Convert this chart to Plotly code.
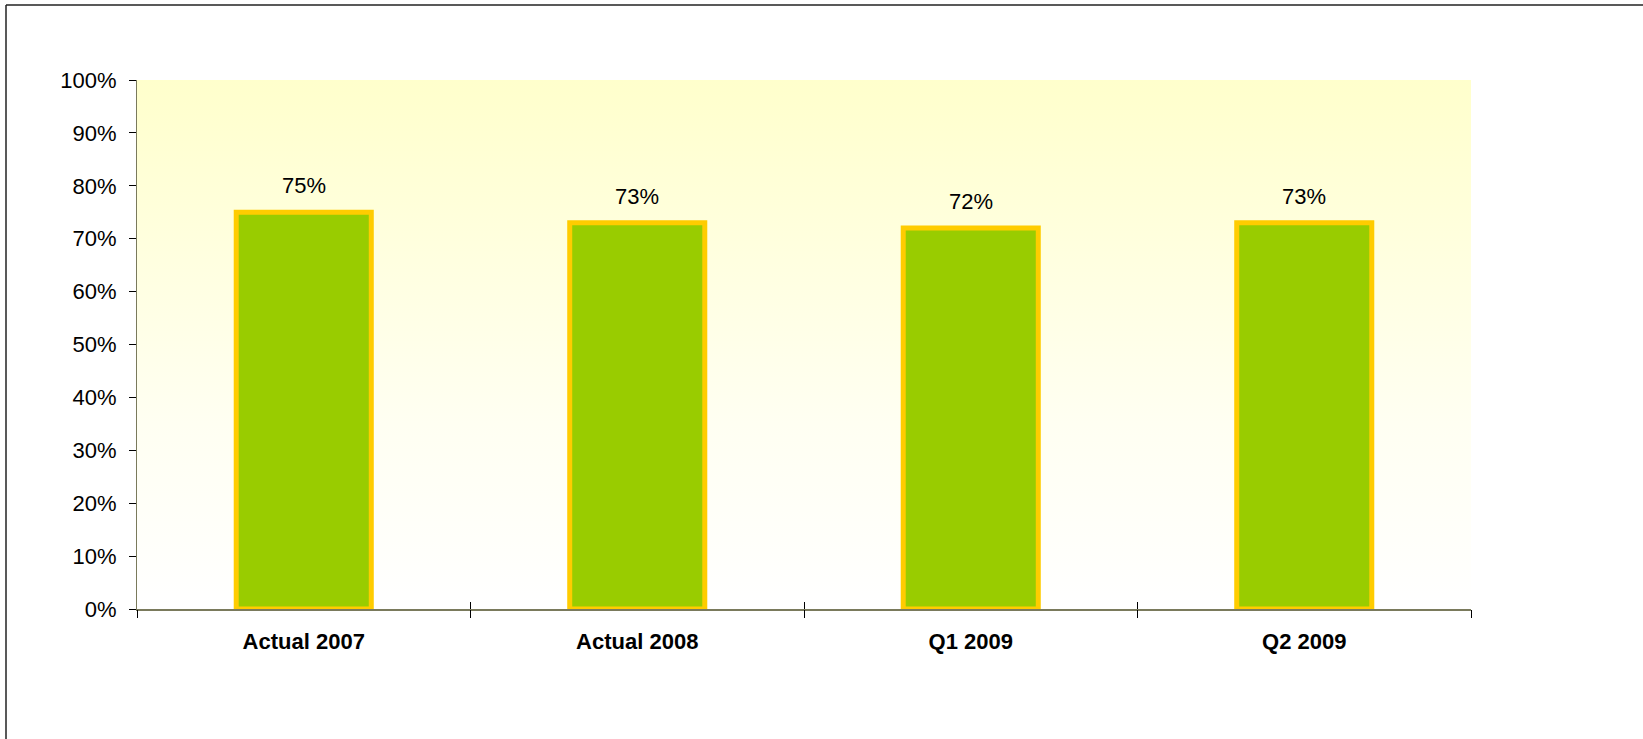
import plotly.graph_objects as go

# Chart data
categories = ["Actual 2007", "Actual 2008", "Q1 2009", "Q2 2009"]
values = [75, 73, 72, 73]
y_tick_values = [0, 10, 20, 30, 40, 50, 60, 70, 80, 90, 100]
y_tick_labels = [f"{v}%" for v in y_tick_values]

W, H = 1643, 739
L, R, T, B = 137, 172, 80, 130
plot_w = W - L - R
plot_h = H - T - B

x_pos = list(range(len(categories)))
x_lo, x_hi = -0.5, len(categories) - 0.5
y_lo, y_hi = 0, 100
boundaries = [x_lo + i for i in range(len(categories) + 1)]

font_family = "Liberation Sans, Arial, sans-serif"

fig = go.Figure()

# Background: soft yellow fading to white towards the baseline (main subplot, drawn first)
fig.add_trace(go.Scatter(
    x=[x_lo, x_hi, x_hi, x_lo, x_lo],
    y=[y_lo, y_lo, y_hi, y_hi, y_lo],
    mode="none",
    fill="toself",
    fillgradient=dict(type="vertical",
                      colorscale=[[0, "#FFFFFF"], [0.35, "#FFFFF2"], [1, "#FFFFCC"]]),
    hoverinfo="skip",
    showlegend=False,
))

# Bars live on an overlaying x axis so they sit above the background fill
fig.add_trace(go.Bar(
    x=x_pos,
    y=values,
    xaxis="x2",
    width=0.405,
    marker=dict(color="#99CC00", line=dict(color="#FFCC00", width=5)),
    showlegend=False,
    hoverinfo="skip",
))

# Value labels above bars
for xi, v in zip(x_pos, values):
    fig.add_annotation(
        x=xi, y=v, xref="x2", yref="y", text=f"{v}%", showarrow=False,
        yanchor="bottom", yshift=12,
        font=dict(family=font_family, size=22, color="#000000"),
    )

# Outer frame (left and top edges)
fx = (6 - L) / plot_w
fy = 1 + (T - 5) / plot_h
fig.add_shape(type="line", xref="paper", yref="paper",
              x0=fx, x1=fx, y0=fy, y1=-B / plot_h - 0.01,
              line=dict(color="#222222", width=1.5))
fig.add_shape(type="line", xref="paper", yref="paper",
              x0=fx, x1=(W - L) / plot_w + 0.01, y0=fy, y1=fy,
              line=dict(color="#222222", width=1.5))

tick_axis = dict(
    overlaying="x", anchor="y", side="bottom",
    range=[x_lo, x_hi],
    showticklabels=False, showgrid=False, zeroline=False, showline=False,
)

fig.update_layout(
    width=W, height=H,
    margin=dict(l=L, r=R, t=T, b=B, pad=0),
    paper_bgcolor="#FFFFFF",
    plot_bgcolor="rgba(0,0,0,0)",
    font=dict(family=font_family, size=22, color="#000000"),
    xaxis=dict(
        range=[x_lo, x_hi],
        tickvals=x_pos,
        ticktext=[f"<b>{c}</b>" for c in categories],
        ticks="",
        showline=False,
        showgrid=False, zeroline=False,
        tickfont=dict(family=font_family, size=22, color="#000000"),
        ticklabelstandoff=17,
    ),
    xaxis2=dict(
        overlaying="x", anchor="y", side="bottom",
        range=[x_lo, x_hi], tickvals=[],
        showticklabels=False, showgrid=False, zeroline=False,
        showline=True, linecolor="#7A7A5C", linewidth=2,
    ),
    xaxis3=dict(tick_axis, tickvals=boundaries,
                ticks="outside", ticklen=8, tickwidth=1, tickcolor="#000000"),
    xaxis4=dict(tick_axis, tickvals=boundaries,
                ticks="inside", ticklen=7, tickwidth=1, tickcolor="#000000"),
    yaxis=dict(
        range=[y_lo, y_hi],
        tickvals=y_tick_values, ticktext=y_tick_labels,
        ticks="outside", ticklen=7, tickwidth=1, tickcolor="#000000",
        showline=True, linecolor="#7A7A5C", linewidth=1,
        showgrid=False, zeroline=False,
        tickfont=dict(family=font_family, size=22, color="#000000"),
        ticklabelstandoff=8,
    ),
)

# Invisible traces so the overlay tick axes are rendered
fig.add_trace(go.Scatter(x=[x_lo], y=[y_lo], xaxis="x3", mode="none",
                         showlegend=False, hoverinfo="skip"))
fig.add_trace(go.Scatter(x=[x_lo], y=[y_lo], xaxis="x4", mode="none",
                         showlegend=False, hoverinfo="skip"))

fig.write_html("out.html")
